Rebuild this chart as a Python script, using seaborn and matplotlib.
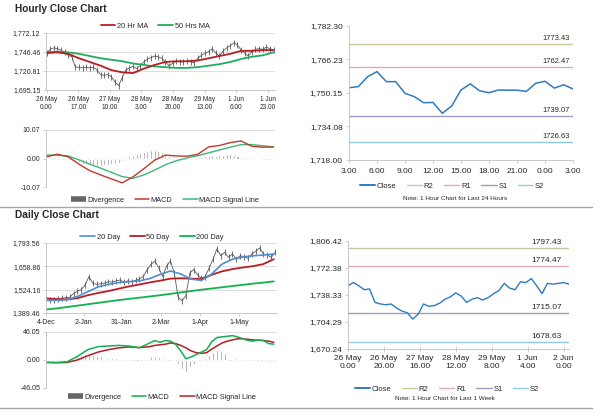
import numpy as np
import matplotlib
matplotlib.use("Agg")
import matplotlib.pyplot as plt
from matplotlib.lines import Line2D
import seaborn as sns

# ============================================================
# DATA
# ============================================================

# -- hourly close chart: one week of hourly prices --
hr_close = [1745, 1750, 1752, 1751, 1749, 1746, 1742, 1740, 1726, 1726,
            1725, 1726, 1725, 1726, 1722, 1716, 1715, 1716, 1713, 1706,
            1701, 1712, 1722, 1725, 1727, 1724, 1728, 1733, 1737, 1739,
            1741, 1740, 1738, 1733, 1728, 1731, 1734, 1733, 1733, 1734,
            1733, 1732, 1738, 1742, 1745, 1747, 1751, 1745, 1741, 1748,
            1752, 1755, 1759, 1756, 1749, 1745, 1741, 1747, 1750, 1751,
            1750, 1753, 1751, 1749]
hr_ma20 = [1745, 1746, 1744, 1738, 1733, 1728, 1722, 1719, 1718, 1724, 1729,
           1733, 1734, 1734, 1735, 1738, 1741, 1744, 1748, 1748, 1749, 1749]
hr_ma50 = [1746, 1747, 1746, 1744, 1741, 1738, 1736, 1734, 1731, 1729, 1727,
           1726, 1725, 1725, 1726, 1728, 1730, 1733, 1737, 1740, 1742, 1746]
hr_div = [0.2, 0.3, 0.4, 0.3, 0.1, 0, -0.2, -0.5, -1.0, -1.4,
          -1.8, -2.0, -2.2, -2.4, -2.5, -2.5, -2.4, -2.2, -2.0, -1.8,
          -1.5, -0.8, 0.3, 0.8, 1.2, 1.6, 2.0, 2.4, 2.7, 3.0,
          3.1, 2.8, 2.2, 1.5, 0.8, 0.4, 0.2, 0.1, 0, 0,
          0.1, 0.2, 0.4, 0.6, 0.8, 1.0, 1.1, 1.0, 1.2, 1.4,
          1.5, 1.6, 1.4, 1.0, 0.4, -0.3, -0.6, -0.7, -0.6, -0.5,
          -0.3, -0.1, 0, 0]
hr_macd = [0.6, 1.5, 0.6, -2.0, -4.3, -5.8, -7.2, -8.6, -6.5, -3.6, -0.6,
           1.2, 0.9, 0.8, 1.5, 4.1, 4.6, 5.6, 6.2, 4.3, 4.0, 4.1]
hr_signal = [1.2, 1.2, 0.9, -0.5, -2.0, -3.4, -4.9, -6.4, -7.0, -5.8, -4.1,
             -2.2, -0.8, 0.2, 1.0, 2.0, 3.0, 4.0, 4.9, 4.9, 4.5, 4.1]
hr_xticks = [0, 17, 34, 51, 68, 85, 102, 119]
hr_xlabels = ["26 May\n0.00", "26 May\n17.00", "27 May\n10.00", "28 May\n3.00",
              "28 May\n20.00", "29 May\n13.00", "1 Jun\n6.00", "1 Jun\n23.00"]
hr_yticks = [1695.15, 1720.81, 1746.46, 1772.12]
hr_macd_ticks = [-10.07, 0.00, 10.07]

# -- last 24 hours --
h24_close = [1752.7, 1753.2, 1758.0, 1760.4, 1755.6, 1755.6, 1750.0, 1748.4,
             1745.5, 1745.6, 1740.4, 1743.9, 1751.6, 1754.5, 1751.2, 1750.3,
             1751.6, 1751.5, 1751.5, 1750.9, 1754.8, 1755.8, 1752.5, 1754.1,
             1752.1]
h24_xlabels = ["3.00", "6.00", "9.00", "12.00", "15.00", "18.00", "21.00",
               "0.00", "3.00"]
h24_yticks = [1718.00, 1734.08, 1750.15, 1766.23, 1782.30]
h24_levels = [1773.43, 1762.47, 1739.07, 1726.63]

# -- daily close chart --
dy_close = [1476, 1465, 1462, 1468, 1476, 1478, 1480, 1502, 1515, 1525,
            1552, 1600, 1560, 1555, 1558, 1562, 1570, 1568, 1575, 1580,
            1568, 1575, 1570, 1578, 1586, 1600, 1640, 1670, 1690, 1650,
            1600, 1660, 1690, 1620, 1480, 1460, 1490, 1620, 1640, 1610,
            1590, 1600, 1650, 1700, 1760, 1720, 1740, 1710, 1730, 1700,
            1720, 1715, 1705, 1730, 1745, 1765, 1730, 1725, 1710, 1740]
dy_ma20 = [1462, 1463, 1466, 1485, 1512, 1540, 1555, 1565, 1570, 1575, 1588, 1612,
           1632, 1615, 1585, 1578, 1615, 1672, 1700, 1712, 1720, 1724, 1730]
dy_ma50 = [1474, 1470, 1468, 1475, 1492, 1505, 1516, 1530, 1543, 1554, 1566, 1576,
           1588, 1590, 1588, 1585, 1610, 1630, 1643, 1652, 1660, 1672, 1700]
dy_ma200 = [1410, 1416, 1424, 1432, 1440, 1448, 1456, 1464, 1471, 1478, 1485, 1492,
            1500, 1508, 1516, 1524, 1531, 1538, 1545, 1552, 1559, 1565, 1572]
dy_div = [-2, -2, -1, -1, 0, 1, 3, 5, 7, 9,
          10, 9, 8, 7, 6, 5, 4, 3, 3, 2,
          2, 1, 0, 0, -1, 0, 2, 6, 7, 5,
          3, 4, 3, 1, -6, -14, -19, -12, -6, -3,
          -1, 3, 8, 13, 16, 14, 11, 8, 5, 3,
          1, 0, -1, -1, 0, -1, -2, -3, -4, -4]
dy_macd_days = list(range(0, 80, 8)) + list(range(80, 177, 4))
dy_macd = [-4, -4, -3, 6, 17, 22, 23, 24, 23, 20,
           28, 32, 29, 32, 31, 26, 15, 2, 5, 9, 13, 17, 30, 37, 38,
           39, 40, 38, 35, 32, 31, 33, 32, 27, 26]
dy_signal = [-4, -4.5, -4, 0, 7, 13, 17, 20, 21.5, 20.5,
             22, 24, 25, 26, 28, 27, 24, 20, 15, 12, 11, 12, 18, 23, 28,
             31, 33, 35, 35, 34, 33, 32.5, 32, 31, 29]
dy_xticks = [0, 29, 58, 89, 119, 149]
dy_xlabels = ["4-Dec", "2-Jan", "31-Jan", "2-Mar", "1-Apr", "1-May"]
dy_yticks = [1389.46, 1524.16, 1658.86, 1793.56]
dy_macd_ticks = [-46.05, 0.00, 46.05]

# -- last week, 1 hour chart --
wk_close = [1750, 1754, 1750, 1745, 1746, 1729, 1727, 1726, 1727, 1722,
            1718, 1716, 1708, 1714, 1727, 1724, 1725, 1728, 1733, 1736,
            1741, 1737, 1729, 1733, 1735, 1732, 1735, 1740, 1744, 1753,
            1747, 1745, 1755, 1754, 1759, 1750, 1740, 1753, 1752, 1753,
            1754, 1752]
wk_xlabels = ["26 May\n0.00", "26 May\n20.00", "27 May\n16.00", "28 May\n12.00",
              "29 May\n8.00", "1 Jun\n4.00", "2 Jun\n0.00"]
wk_yticks = [1670.24, 1704.29, 1738.33, 1772.38, 1806.42]
wk_levels = [1797.43, 1774.47, 1715.07, 1678.63]

level_names = ["R2", "R1", "S1", "S2"]

# x positions (hours / days)
hr_x = np.linspace(0, 122, len(hr_close))
hr_ma_x = np.linspace(0, 122, len(hr_ma20))
hr_macd_x = np.linspace(0, 122, len(hr_macd))
h24_x = np.arange(len(h24_close))
dy_x = np.arange(len(dy_close)) * 3
dy_ma_x = np.arange(len(dy_ma20)) * 8
wk_x = np.arange(len(wk_close)) * 3

# ============================================================
# STYLE
# ============================================================
sns.set_theme(style="white")
plt.rcParams["font.family"] = ["Liberation Sans", "DejaVu Sans"]
plt.rcParams["text.color"] = "#262626"

RED = "#b81c24"
GREEN = "#1fae5b"
BLUE = "#4f8ed0"
GREY = "#595959"
CLOSE = "#2e7bbf"
level_colours = ["#cbc59f", "#dcacb6", "#a59bc0", "#8ecbe2"]
AXC = "#bfbfbf"

W, H = 600, 413
fig = plt.figure(figsize=(6, 4.13), dpi=100)


def box(l, t, r, b):
    return [l / W, 1 - b / H, (r - l) / W, (b - t) / H]


def at(x, y):
    return (x / W, 1 - y / H)


def left_panel(ax, yticks, xmax, ylab=5):
    ax.set_xlim(-0.3, xmax)
    ax.set_ylim(yticks[0], yticks[-1])
    ax.set_yticks(yticks)
    ax.set_yticklabels([f"{v:,.2f}" for v in yticks])
    ax.grid(False)
    ax.grid(axis="y", color="#d9d9d9", lw=0.6)
    ax.set_axisbelow(True)
    for s in ["top", "right"]:
        ax.spines[s].set_visible(False)
    for s in ["left", "bottom"]:
        ax.spines[s].set_color(AXC)
        ax.spines[s].set_linewidth(0.6)
    ax.tick_params(axis="y", labelsize=ylab, length=2, width=0.5, color=AXC, pad=2, left=True)
    ax.set_xlabel("")
    ax.set_ylabel("")


def right_panel(ax, yticks, xmax):
    ax.set_xlim(0, xmax)
    ax.set_ylim(yticks[0], yticks[-1])
    ax.set_yticks(yticks)
    ax.set_yticklabels([f"{v:,.2f}" for v in yticks])
    ax.grid(False)
    for s in ["top", "right"]:
        ax.spines[s].set_visible(False)
    for s in ["left", "bottom"]:
        ax.spines[s].set_color(AXC)
        ax.spines[s].set_linewidth(0.6)
    ax.tick_params(labelsize=6, length=2.5, width=0.5, color=AXC, pad=2,
                   left=True, bottom=True)
    ax.set_xlabel("")
    ax.set_ylabel("")


def leg(handles, labels, xy, fs=5.3, ncol=None):
    fig.legend(handles, labels, loc="center", bbox_to_anchor=at(*xy),
               ncol=ncol or len(labels), frameon=False, fontsize=fs,
               handlelength=2.0, handletextpad=0.2, columnspacing=1.4,
               borderpad=0, borderaxespad=0)


# ============================================================
# 1. HOURLY CLOSE CHART
# ============================================================
ax1 = fig.add_axes(box(46, 33, 275, 90))
ax1.plot(hr_x, hr_close, color=GREY, lw=0.6, marker="|", ms=4, mew=0.6)
sns.lineplot(x=hr_ma_x, y=hr_ma50, ax=ax1, color=GREEN, lw=1.3)
sns.lineplot(x=hr_ma_x, y=hr_ma20, ax=ax1, color=RED, lw=1.3)
left_panel(ax1, hr_yticks, 122.8)
ax1.set_xticks(hr_xticks)
ax1.set_xticklabels(hr_xlabels, linespacing=1.1)
ax1.tick_params(axis="x", labelsize=4.7, length=2, width=0.5, color=AXC, pad=2.5, bottom=True)

leg([Line2D([], [], color=RED, lw=1.3), Line2D([], [], color=GREEN, lw=1.3)],
    ["20 Hr MA", "50 Hrs MA"], (155, 26))

ax2 = fig.add_axes(box(46, 130, 275, 187))
ax2.bar(hr_x, hr_div, width=1.1, color="#8c8c8c")
sns.lineplot(x=hr_macd_x, y=hr_signal, ax=ax2, color="#3cb878", lw=1.0)
sns.lineplot(x=hr_macd_x, y=hr_macd, ax=ax2, color="#c0392b", lw=1.0)
left_panel(ax2, hr_macd_ticks, 122.8)
ax2.spines["bottom"].set_visible(False)
ax2.set_xticks([])

leg([Line2D([], [], color="#666666", lw=4, solid_capstyle="butt"),
     Line2D([], [], color="#c0392b", lw=1.1),
     Line2D([], [], color="#3cb878", lw=1.1)],
    ["Divergence", "MACD", "MACD Signal Line"], (165, 200))

# -- last 24 hours --
ax3 = fig.add_axes(box(349, 26, 573, 160))
for lvl, col in zip(h24_levels, level_colours):
    ax3.axhline(lvl, color=col, lw=1.0)
    ax3.annotate(f"{lvl:.2f}", xy=(1, lvl), xycoords=("axes fraction", "data"),
                 xytext=(-2, 1.5), textcoords="offset points",
                 ha="right", va="bottom", fontsize=5.4)
sns.lineplot(x=h24_x, y=h24_close, ax=ax3, color=CLOSE, lw=1.1)
right_panel(ax3, h24_yticks, 24)
ax3.set_xticks(np.arange(0, 25, 3))
ax3.set_xticklabels(h24_xlabels)
ax3.tick_params(axis="x", pad=3)

leg([Line2D([], [], color=CLOSE, lw=1.4)] +
    [Line2D([], [], color=c, lw=1.0) for c in level_colours],
    ["Close"] + level_names, (452, 186), fs=5.5)
fig.text(*at(455, 198), "Note: 1 Hour Chart for Last 24 Hours",
         ha="center", va="center", fontsize=4.6)

# ============================================================
# 2. DAILY CLOSE CHART
# ============================================================
ax4 = fig.add_axes(box(46, 243, 277, 313))
ax4.plot(dy_x, dy_close, color=GREY, lw=0.6, marker="|", ms=4, mew=0.6)
sns.lineplot(x=dy_ma_x, y=dy_ma200, ax=ax4, color="#12b04f", lw=1.3)
sns.lineplot(x=dy_ma_x, y=dy_ma50, ax=ax4, color=RED, lw=1.3)
sns.lineplot(x=dy_ma_x, y=dy_ma20, ax=ax4, color=BLUE, lw=1.2)
left_panel(ax4, dy_yticks, 178.5)
ax4.set_xticks(dy_xticks)
ax4.set_xticklabels(dy_xlabels)
ax4.tick_params(axis="x", labelsize=5, length=2, width=0.5, color=AXC, pad=2.5, bottom=True)

leg([Line2D([], [], color=BLUE, lw=1.2), Line2D([], [], color=RED, lw=1.3),
     Line2D([], [], color="#12b04f", lw=1.3)],
    ["20 Day", "50 Day", "200 Day"], (152, 237))

ax5 = fig.add_axes(box(46, 332, 277, 388))
ax5.bar(dy_x, dy_div, width=1.4, color="#8c8c8c")
sns.lineplot(x=dy_macd_days, y=dy_signal, ax=ax5, color=RED, lw=1.1)
sns.lineplot(x=dy_macd_days, y=dy_macd, ax=ax5, color="#12b04f", lw=1.1)
left_panel(ax5, dy_macd_ticks, 178.5)
ax5.spines["bottom"].set_visible(False)
ax5.set_xticks([])

leg([Line2D([], [], color="#666666", lw=4, solid_capstyle="butt"),
     Line2D([], [], color="#12b04f", lw=1.1),
     Line2D([], [], color=RED, lw=1.1)],
    ["Divergence", "MACD", "MACD Signal Line"], (162, 397))

# -- last week, 1 hour chart --
ax6 = fig.add_axes(box(348, 241, 569, 349))
for lvl, col in zip(wk_levels, level_colours):
    ax6.axhline(lvl, color=col, lw=1.0)
    ax6.annotate(f"{lvl:.2f}", xy=(1, lvl), xycoords=("axes fraction", "data"),
                 xytext=(-5, 1.5), textcoords="offset points",
                 ha="right", va="bottom", fontsize=6)
sns.lineplot(x=wk_x, y=wk_close, ax=ax6, color=CLOSE, lw=1.0)
right_panel(ax6, wk_yticks, 123)
ax6.set_xticks(np.arange(0, 121, 20))
ax6.set_xticklabels(wk_xlabels, linespacing=1.3)
ax6.tick_params(axis="x", direction="inout", length=4, pad=2)

leg([Line2D([], [], color=CLOSE, lw=1.4)] +
    [Line2D([], [], color=c, lw=1.0) for c in level_colours],
    ["Close"] + level_names, (447, 389), fs=5.5)
fig.text(*at(445, 398), "Note: 1 Hour Chart for Last 1 Week",
         ha="center", va="center", fontsize=4.6)

# ============================================================
# TITLES & SEPARATORS
# ============================================================
fig.text(*at(15, 9), "Hourly Close Chart", fontsize=7.3, fontweight="bold", va="center")
fig.text(*at(15, 215), "Daily Close Chart", fontsize=7.3, fontweight="bold", va="center")
for ypx in [207, 408]:
    fig.add_artist(Line2D([0, 592 / W], [1 - ypx / H] * 2, color="#a6a6a6",
                          lw=1.0, transform=fig.transFigure))

fig.savefig("out.png", dpi=100)
